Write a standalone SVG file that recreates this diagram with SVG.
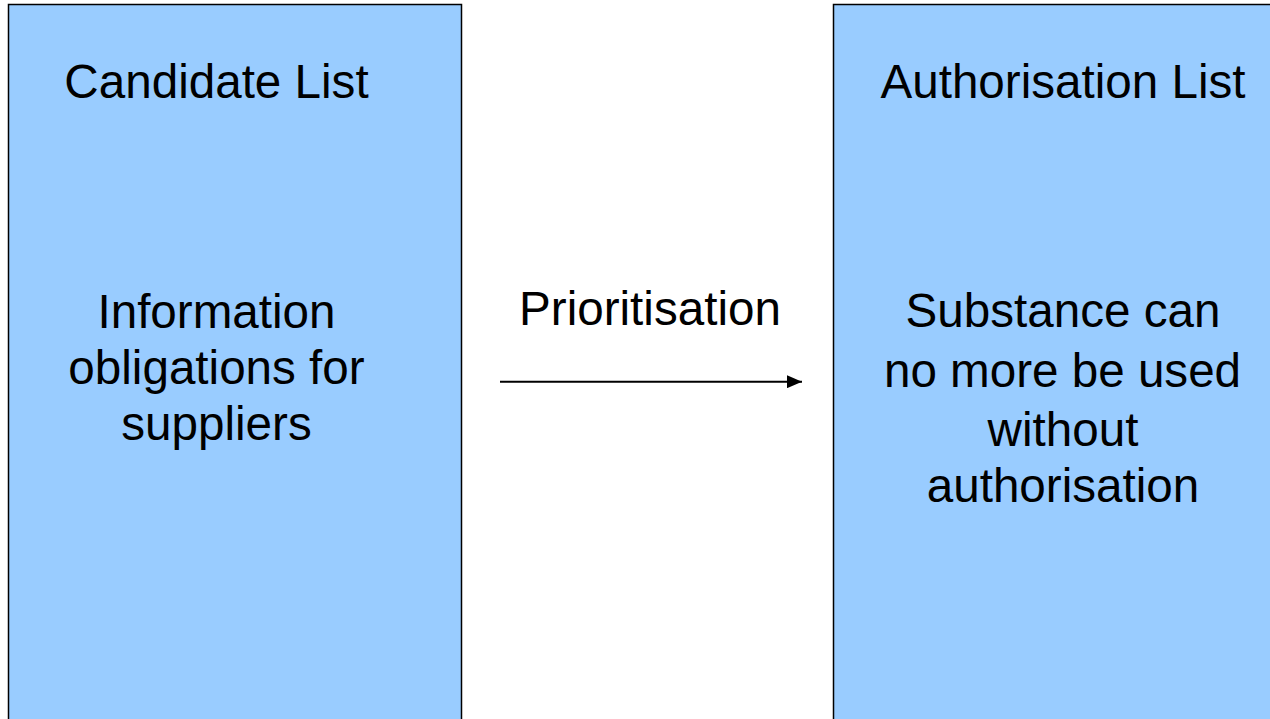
<svg xmlns="http://www.w3.org/2000/svg" width="1270" height="719" viewBox="0 0 1270 719">
<style>
.box{fill:#99CCFF;stroke:#000;stroke-width:1.5}
.t{font-family:"Liberation Sans",Arial,sans-serif;font-size:47.6px;fill:#000;text-anchor:middle}
</style>
<defs>
<marker id="ah" markerWidth="15" markerHeight="13" refX="15" refY="6.5" orient="auto" markerUnits="userSpaceOnUse" viewBox="0 0 15 13">
<path d="M0,0 L15,6.5 L0,13 Z" fill="#000"/>
</marker>
</defs>
<rect width="1270" height="719" fill="#fff"/>
<g id="candidate">
<rect class="box" x="8.5" y="4.5" width="453" height="730"/>
<text class="t" x="216.5" y="98.3">Candidate List</text>
<text class="t" x="216.5" y="328.3">Information</text>
<text class="t" x="216.5" y="384">obligations for</text>
<text class="t" x="216.5" y="439.5">suppliers</text>
</g>
<g id="authorisation">
<rect class="box" x="833.5" y="4.5" width="450" height="730"/>
<text class="t" x="1063" y="98.3">Authorisation List</text>
<text class="t" x="1063" y="327">Substance can</text>
<text class="t" x="1062.5" y="387">no more be used</text>
<text class="t" x="1063" y="445.5">without</text>
<text class="t" x="1063" y="502.3">authorisation</text>
</g>
<g id="connectors">
<line x1="500" y1="381.7" x2="802" y2="381.7" stroke="#000" stroke-width="2" marker-end="url(#ah)"/>
<text class="t" x="650" y="325">Prioritisation</text>
</g>
</svg>
